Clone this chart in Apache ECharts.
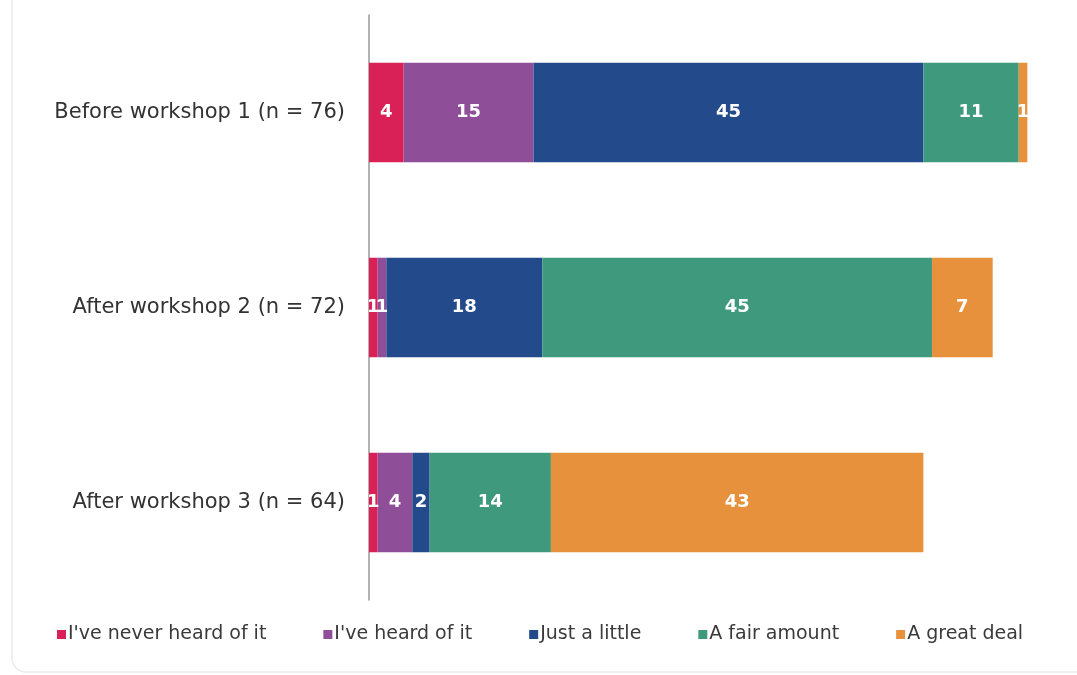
<!DOCTYPE html>
<html><head><meta charset="utf-8">
<script src="https://cdn.jsdelivr.net/npm/echarts@6/dist/echarts.min.js"></script>
<style>html,body{margin:0;padding:0;background:#fff}#c{width:1077px;height:675px}</style>
</head><body><div id="c"></div>
<script>
const categories = ["Before workshop 1 (n = 76)", "After workshop 2 (n = 72)", "After workshop 3 (n = 64)"];
const seriesNames = ["I've never heard of it", "I've heard of it", "Just a little", "A fair amount", "A great deal"];
const neverHeard = [4, 1, 1];
const heardOf = [15, 1, 4];
const justLittle = [45, 18, 2];
const fairAmount = [11, 45, 14];
const greatDeal = [1, 7, 43];
const colors = ["#DA2157", "#8E4E98", "#234A8A", "#3F9A7D", "#E8913D"];
const values = [neverHeard, heardOf, justLittle, fairAmount, greatDeal];

const chart = echarts.init(document.getElementById('c'));
chart.setOption({
  animation: false,
  graphic: [{type:'rect', shape:{x:12, y:-20, width:1100, height:692, r:14}, style:{fill:'none', stroke:'#ececec', lineWidth:1.5}, z:-1}],
  grid: {left: 369, right: 15, top: 15, bottom: 75, containLabel: false},
  legend: {
    bottom: 26, left: 52, itemWidth: 9, itemHeight: 9, itemGap: 57, icon: 'rect',
    textStyle: {fontFamily: '"DejaVu Sans", sans-serif', fontSize: 19, color: '#3a3a3a', padding:[0,0,0,-3]},
    data: seriesNames
  },
  xAxis: {type: 'value', min: 0, max: 80, show: false},
  yAxis: {
    type: 'category', data: categories, inverse: true,
    axisLine: {show: true, lineStyle: {color: '#999', width: 1.5}},
    axisTick: {show: false},
    axisLabel: {fontFamily: '"DejaVu Sans", sans-serif', fontSize: 21, color: '#333', margin: 24}
  },
  series: seriesNames.map((n, i) => ({
    name: n, type: 'bar', stack: 'total', barWidth: '51%',
    itemStyle: {color: colors[i]},
    label: {show: true, position: 'inside', color: '#fff', fontWeight: 'bold', fontSize: 18, fontFamily: '"DejaVu Sans", sans-serif'},
    data: values[i]
  }))
});
</script></body></html>
